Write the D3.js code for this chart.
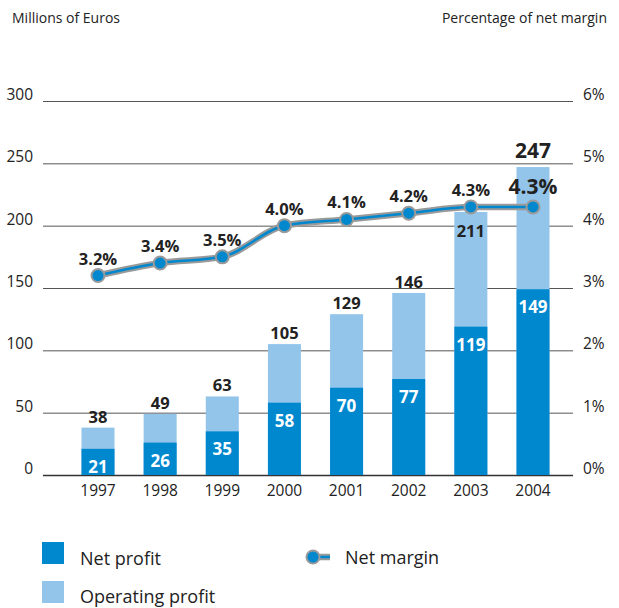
<!DOCTYPE html>
<html>
<head>
<meta charset="utf-8">
<script src="https://cdn.jsdelivr.net/npm/d3@7"></script>
<style>
  body { margin: 0; background: #fff; }
  text { font-family: "Open Sans", "DejaVu Sans", sans-serif; }
</style>
</head>
<body>
<script>
var years = ["1997", "1998", "1999", "2000", "2001", "2002", "2003", "2004"];
var netProfit = [21, 26, 35, 58, 70, 77, 119, 149];
var operatingProfit = [38, 49, 63, 105, 129, 146, 211, 247];
var netMargin = [3.2, 3.4, 3.5, 4.0, 4.1, 4.2, 4.3, 4.3];
var leftTicks = [0, 50, 100, 150, 200, 250, 300];
var rightTicks = [0, 1, 2, 3, 4, 5, 6];

var W = 619, H = 608;
var dark = "#0088cf", light = "#93c4ea", grey = "#9a9a9a", ink = "#222";

var svg = d3.select("body").append("svg")
    .attr("width", W)
    .attr("height", H);

var x = d3.scalePoint().domain(years).range([98, 533]);
var y = d3.scaleLinear().domain([0, 300]).range([475, 101]);
var yp = d3.scaleLinear().domain([0, 6]).range([475, 101]);
var barW = 33;

// titles
svg.append("text").attr("x", 12).attr("y", 23)
    .style("font-size", "14px").attr("fill", ink).text("Millions of Euros");
svg.append("text").attr("x", 607).attr("y", 23).attr("text-anchor", "end")
    .style("font-size", "14px").attr("fill", ink).text("Percentage of net margin");

// grid lines
svg.append("g").selectAll("line")
    .data(leftTicks).enter()
    .append("line")
    .attr("x1", 43).attr("x2", 573)
    .attr("y1", d => y(d) + 0.5).attr("y2", d => y(d) + 0.5)
    .attr("stroke", d => d === 0 ? "#333" : "#555")
    .attr("stroke-width", d => d === 0 ? 1.5 : 1);

// left axis
svg.append("g").selectAll("text")
    .data(leftTicks).enter()
    .append("text")
    .attr("x", 33).attr("y", d => y(d) - 1)
    .attr("text-anchor", "end")
    .style("font-size", "15.5px").attr("fill", ink)
    .text(d => d);

// right axis
svg.append("g").selectAll("text")
    .data(rightTicks).enter()
    .append("text")
    .attr("x", 583).attr("y", d => yp(d) - 1)
    .style("font-size", "15.5px").attr("fill", ink)
    .text(d => d + "%");

// x labels
svg.append("g").selectAll("text")
    .data(years).enter()
    .append("text")
    .attr("x", d => x(d)).attr("y", 496)
    .attr("text-anchor", "middle")
    .style("font-size", "15.5px").attr("fill", ink)
    .text(d => d);

// bars
var bars = svg.append("g").selectAll("g")
    .data(years).enter()
    .append("g");

bars.append("rect")
    .attr("x", d => x(d) - barW / 2)
    .attr("width", barW)
    .attr("y", (d, i) => y(operatingProfit[i]))
    .attr("height", (d, i) => y(0) - y(operatingProfit[i]))
    .attr("fill", light);

bars.append("rect")
    .attr("x", d => x(d) - barW / 2)
    .attr("width", barW)
    .attr("y", (d, i) => y(netProfit[i]))
    .attr("height", (d, i) => y(0) - y(netProfit[i]))
    .attr("fill", dark);

// net profit labels
bars.append("text")
    .attr("x", d => x(d))
    .attr("y", (d, i) => y(netProfit[i]) + 24)
    .attr("text-anchor", "middle")
    .style("font-size", "17px").style("font-weight", "bold")
    .attr("fill", "#fff")
    .text((d, i) => netProfit[i]);

// operating profit labels
var last = years.length - 1;
bars.append("text")
    .attr("x", d => x(d))
    .attr("y", (d, i) => {
        var top = y(operatingProfit[i]);
        var py = yp(netMargin[i]);
        if (top > py - 12 && top < py + 30) return top + 25;
        return top - (i === last ? 9 : 5);
    })
    .attr("text-anchor", "middle")
    .style("font-size", (d, i) => i === last ? "21px" : "16.5px")
    .style("font-weight", "bold")
    .attr("fill", ink)
    .text((d, i) => operatingProfit[i]);

// net margin line
var line = d3.line()
    .x((d, i) => x(years[i]))
    .y(d => yp(d))
    .curve(d3.curveMonotoneX);

svg.append("path").datum(netMargin)
    .attr("d", line).attr("fill", "none")
    .attr("stroke", grey).attr("stroke-width", 6.5);
svg.append("path").datum(netMargin)
    .attr("d", line).attr("fill", "none")
    .attr("stroke", dark).attr("stroke-width", 2.5);

svg.append("g").selectAll("circle")
    .data(netMargin).enter()
    .append("circle")
    .attr("cx", (d, i) => x(years[i]))
    .attr("cy", d => yp(d))
    .attr("r", 6.5)
    .attr("fill", dark)
    .attr("stroke", grey).attr("stroke-width", 2);

svg.append("g").selectAll("text")
    .data(netMargin).enter()
    .append("text")
    .attr("x", (d, i) => x(years[i]))
    .attr("y", (d, i) => yp(d) - (i === last ? 13 : 11))
    .attr("text-anchor", "middle")
    .style("font-size", (d, i) => i === last ? "21px" : "16.5px")
    .style("font-weight", "bold")
    .attr("fill", ink)
    .text(d => d.toFixed(1) + "%");

// legend
var legend = svg.append("g");
legend.append("rect").attr("x", 42).attr("y", 542).attr("width", 22).attr("height", 22).attr("fill", dark);
legend.append("text").attr("x", 80).attr("y", 565)
    .style("font-size", "18px").attr("fill", ink).text("Net profit");
legend.append("rect").attr("x", 42).attr("y", 581).attr("width", 22).attr("height", 22).attr("fill", light);
legend.append("text").attr("x", 80).attr("y", 603)
    .style("font-size", "18px").attr("fill", ink).text("Operating profit");

legend.append("line").attr("x1", 313).attr("x2", 330).attr("y1", 557).attr("y2", 557)
    .attr("stroke", grey).attr("stroke-width", 6.5);
legend.append("line").attr("x1", 313).attr("x2", 330).attr("y1", 557).attr("y2", 557)
    .attr("stroke", dark).attr("stroke-width", 2.5);
legend.append("circle").attr("cx", 313).attr("cy", 557).attr("r", 6.5)
    .attr("fill", dark).attr("stroke", grey).attr("stroke-width", 2);
legend.append("text").attr("x", 345).attr("y", 564)
    .style("font-size", "18px").attr("fill", ink).text("Net margin");
</script>
</body>
</html>
